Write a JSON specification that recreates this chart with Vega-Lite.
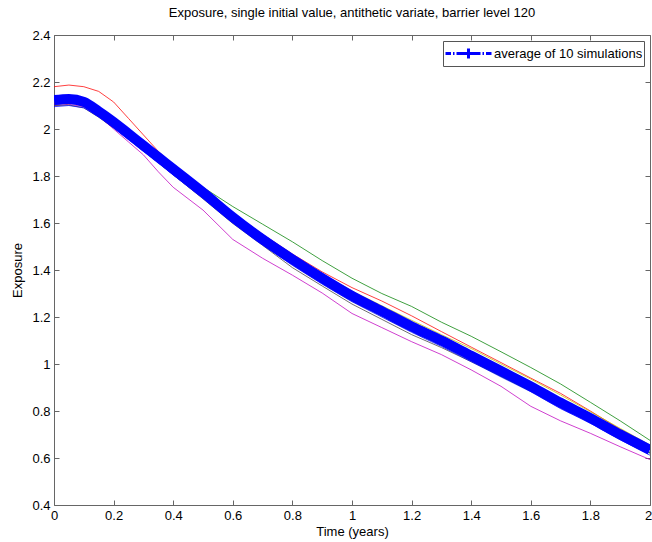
{
  "$schema": "https://vega.github.io/schema/vega-lite/v6.json",
  "width": 596,
  "height": 470,
  "autosize": {"type": "none"},
  "padding": {"left": 54, "top": 35, "right": 2, "bottom": 37},
  "background": "white",
  "title": {"text": "Exposure, single initial value, antithetic variate, barrier level 120", "font": "Liberation Sans", "fontSize": 13, "fontWeight": "normal", "color": "black", "anchor": "middle", "offset": 9},
  "config": {
    "view": {"stroke": null},
    "font": "Liberation Sans",
    "axis": {
      "grid": false,
      "domainColor": "#666666",
      "tickColor": "#666666",
      "tickSize": -5,
      "labelPadding": 9,
      "labelColor": "black",
      "labelFont": "Liberation Sans",
      "labelFontSize": 13,
      "labelFlush": false,
      "labelOverlap": false,
      "labelBound": false,
      "titleFont": "Liberation Sans",
      "titleFontSize": 13,
      "titleFontWeight": "normal",
      "titleColor": "black"
    }
  },
  "datasets": {
    "avg": [
      {"series": "average of 10 simulations", "t": 0, "v": 2.123},
      {"series": "average of 10 simulations", "t": 0.05, "v": 2.128},
      {"series": "average of 10 simulations", "t": 0.1, "v": 2.115},
      {"series": "average of 10 simulations", "t": 0.15, "v": 2.075},
      {"series": "average of 10 simulations", "t": 0.2, "v": 2.03},
      {"series": "average of 10 simulations", "t": 0.25, "v": 1.98},
      {"series": "average of 10 simulations", "t": 0.3, "v": 1.93},
      {"series": "average of 10 simulations", "t": 0.35, "v": 1.88},
      {"series": "average of 10 simulations", "t": 0.4, "v": 1.83},
      {"series": "average of 10 simulations", "t": 0.5, "v": 1.73},
      {"series": "average of 10 simulations", "t": 0.6, "v": 1.625},
      {"series": "average of 10 simulations", "t": 0.7, "v": 1.53},
      {"series": "average of 10 simulations", "t": 0.8, "v": 1.445},
      {"series": "average of 10 simulations", "t": 0.9, "v": 1.365},
      {"series": "average of 10 simulations", "t": 1, "v": 1.29},
      {"series": "average of 10 simulations", "t": 1.1, "v": 1.225},
      {"series": "average of 10 simulations", "t": 1.2, "v": 1.16},
      {"series": "average of 10 simulations", "t": 1.3, "v": 1.1},
      {"series": "average of 10 simulations", "t": 1.4, "v": 1.035},
      {"series": "average of 10 simulations", "t": 1.5, "v": 0.97},
      {"series": "average of 10 simulations", "t": 1.6, "v": 0.905},
      {"series": "average of 10 simulations", "t": 1.7, "v": 0.835},
      {"series": "average of 10 simulations", "t": 1.8, "v": 0.77},
      {"series": "average of 10 simulations", "t": 1.9, "v": 0.7},
      {"series": "average of 10 simulations", "t": 2, "v": 0.635}
    ],
    "sims": [
      {"s": "s1", "t": 0, "v": 2.105}, {"s": "s1", "t": 0.05, "v": 2.11}, {"s": "s1", "t": 0.1, "v": 2.1}, {"s": "s1", "t": 0.15, "v": 2.06}, {"s": "s1", "t": 0.2, "v": 2.012}, {"s": "s1", "t": 0.25, "v": 1.962}, {"s": "s1", "t": 0.3, "v": 1.915}, {"s": "s1", "t": 0.35, "v": 1.862}, {"s": "s1", "t": 0.4, "v": 1.815}, {"s": "s1", "t": 0.5, "v": 1.712}, {"s": "s1", "t": 0.6, "v": 1.612}, {"s": "s1", "t": 0.7, "v": 1.515}, {"s": "s1", "t": 0.8, "v": 1.43}, {"s": "s1", "t": 0.9, "v": 1.348}, {"s": "s1", "t": 1, "v": 1.272}, {"s": "s1", "t": 1.1, "v": 1.21}, {"s": "s1", "t": 1.2, "v": 1.145}, {"s": "s1", "t": 1.3, "v": 1.082}, {"s": "s1", "t": 1.4, "v": 1.02}, {"s": "s1", "t": 1.5, "v": 0.957}, {"s": "s1", "t": 1.6, "v": 0.89}, {"s": "s1", "t": 1.7, "v": 0.822}, {"s": "s1", "t": 1.8, "v": 0.755}, {"s": "s1", "t": 1.9, "v": 0.688}, {"s": "s1", "t": 2, "v": 0.622},
      {"s": "s2", "t": 0, "v": 2.135}, {"s": "s2", "t": 0.05, "v": 2.14}, {"s": "s2", "t": 0.1, "v": 2.125}, {"s": "s2", "t": 0.15, "v": 2.085}, {"s": "s2", "t": 0.2, "v": 2.035}, {"s": "s2", "t": 0.25, "v": 1.985}, {"s": "s2", "t": 0.3, "v": 1.935}, {"s": "s2", "t": 0.35, "v": 1.885}, {"s": "s2", "t": 0.4, "v": 1.838}, {"s": "s2", "t": 0.5, "v": 1.752}, {"s": "s2", "t": 0.6, "v": 1.67}, {"s": "s2", "t": 0.7, "v": 1.595}, {"s": "s2", "t": 0.8, "v": 1.52}, {"s": "s2", "t": 0.9, "v": 1.44}, {"s": "s2", "t": 1, "v": 1.365}, {"s": "s2", "t": 1.1, "v": 1.3}, {"s": "s2", "t": 1.2, "v": 1.245}, {"s": "s2", "t": 1.3, "v": 1.178}, {"s": "s2", "t": 1.4, "v": 1.118}, {"s": "s2", "t": 1.5, "v": 1.052}, {"s": "s2", "t": 1.6, "v": 0.985}, {"s": "s2", "t": 1.7, "v": 0.915}, {"s": "s2", "t": 1.8, "v": 0.837}, {"s": "s2", "t": 1.9, "v": 0.758}, {"s": "s2", "t": 2, "v": 0.675},
      {"s": "s3", "t": 0, "v": 2.18}, {"s": "s3", "t": 0.05, "v": 2.187}, {"s": "s3", "t": 0.1, "v": 2.18}, {"s": "s3", "t": 0.15, "v": 2.16}, {"s": "s3", "t": 0.2, "v": 2.115}, {"s": "s3", "t": 0.25, "v": 2.045}, {"s": "s3", "t": 0.3, "v": 1.975}, {"s": "s3", "t": 0.35, "v": 1.905}, {"s": "s3", "t": 0.4, "v": 1.845}, {"s": "s3", "t": 0.5, "v": 1.745}, {"s": "s3", "t": 0.6, "v": 1.642}, {"s": "s3", "t": 0.7, "v": 1.552}, {"s": "s3", "t": 0.8, "v": 1.468}, {"s": "s3", "t": 0.9, "v": 1.392}, {"s": "s3", "t": 1, "v": 1.325}, {"s": "s3", "t": 1.1, "v": 1.268}, {"s": "s3", "t": 1.2, "v": 1.205}, {"s": "s3", "t": 1.3, "v": 1.138}, {"s": "s3", "t": 1.4, "v": 1.072}, {"s": "s3", "t": 1.5, "v": 1.006}, {"s": "s3", "t": 1.6, "v": 0.94}, {"s": "s3", "t": 1.7, "v": 0.875}, {"s": "s3", "t": 1.8, "v": 0.8}, {"s": "s3", "t": 1.9, "v": 0.722}, {"s": "s3", "t": 2, "v": 0.652},
      {"s": "s4", "t": 0, "v": 2.128}, {"s": "s4", "t": 0.05, "v": 2.133}, {"s": "s4", "t": 0.1, "v": 2.122}, {"s": "s4", "t": 0.15, "v": 2.083}, {"s": "s4", "t": 0.2, "v": 2.04}, {"s": "s4", "t": 0.25, "v": 1.99}, {"s": "s4", "t": 0.3, "v": 1.94}, {"s": "s4", "t": 0.35, "v": 1.892}, {"s": "s4", "t": 0.4, "v": 1.84}, {"s": "s4", "t": 0.5, "v": 1.742}, {"s": "s4", "t": 0.6, "v": 1.632}, {"s": "s4", "t": 0.7, "v": 1.54}, {"s": "s4", "t": 0.8, "v": 1.455}, {"s": "s4", "t": 0.9, "v": 1.372}, {"s": "s4", "t": 1, "v": 1.298}, {"s": "s4", "t": 1.1, "v": 1.232}, {"s": "s4", "t": 1.2, "v": 1.168}, {"s": "s4", "t": 1.3, "v": 1.108}, {"s": "s4", "t": 1.4, "v": 1.04}, {"s": "s4", "t": 1.5, "v": 0.978}, {"s": "s4", "t": 1.6, "v": 0.912}, {"s": "s4", "t": 1.7, "v": 0.842}, {"s": "s4", "t": 1.8, "v": 0.777}, {"s": "s4", "t": 1.9, "v": 0.708}, {"s": "s4", "t": 2, "v": 0.64},
      {"s": "s5", "t": 0, "v": 2.1}, {"s": "s5", "t": 0.05, "v": 2.105}, {"s": "s5", "t": 0.1, "v": 2.095}, {"s": "s5", "t": 0.15, "v": 2.055}, {"s": "s5", "t": 0.2, "v": 2.0}, {"s": "s5", "t": 0.25, "v": 1.945}, {"s": "s5", "t": 0.3, "v": 1.89}, {"s": "s5", "t": 0.35, "v": 1.818}, {"s": "s5", "t": 0.4, "v": 1.752}, {"s": "s5", "t": 0.5, "v": 1.655}, {"s": "s5", "t": 0.6, "v": 1.53}, {"s": "s5", "t": 0.7, "v": 1.45}, {"s": "s5", "t": 0.8, "v": 1.378}, {"s": "s5", "t": 0.9, "v": 1.302}, {"s": "s5", "t": 1, "v": 1.215}, {"s": "s5", "t": 1.1, "v": 1.155}, {"s": "s5", "t": 1.2, "v": 1.095}, {"s": "s5", "t": 1.3, "v": 1.04}, {"s": "s5", "t": 1.4, "v": 0.975}, {"s": "s5", "t": 1.5, "v": 0.905}, {"s": "s5", "t": 1.6, "v": 0.82}, {"s": "s5", "t": 1.7, "v": 0.758}, {"s": "s5", "t": 1.8, "v": 0.705}, {"s": "s5", "t": 1.9, "v": 0.648}, {"s": "s5", "t": 2, "v": 0.593},
      {"s": "s6", "t": 0, "v": 2.12}, {"s": "s6", "t": 0.05, "v": 2.125}, {"s": "s6", "t": 0.1, "v": 2.112}, {"s": "s6", "t": 0.15, "v": 2.072}, {"s": "s6", "t": 0.2, "v": 2.028}, {"s": "s6", "t": 0.25, "v": 1.978}, {"s": "s6", "t": 0.3, "v": 1.93}, {"s": "s6", "t": 0.35, "v": 1.882}, {"s": "s6", "t": 0.4, "v": 1.832}, {"s": "s6", "t": 0.5, "v": 1.736}, {"s": "s6", "t": 0.6, "v": 1.635}, {"s": "s6", "t": 0.7, "v": 1.545}, {"s": "s6", "t": 0.8, "v": 1.462}, {"s": "s6", "t": 0.9, "v": 1.385}, {"s": "s6", "t": 1, "v": 1.31}, {"s": "s6", "t": 1.1, "v": 1.248}, {"s": "s6", "t": 1.2, "v": 1.186}, {"s": "s6", "t": 1.3, "v": 1.125}, {"s": "s6", "t": 1.4, "v": 1.066}, {"s": "s6", "t": 1.5, "v": 1.0}, {"s": "s6", "t": 1.6, "v": 0.936}, {"s": "s6", "t": 1.7, "v": 0.868}, {"s": "s6", "t": 1.8, "v": 0.797}, {"s": "s6", "t": 1.9, "v": 0.726}, {"s": "s6", "t": 2, "v": 0.655},
      {"s": "s7", "t": 0, "v": 2.1}, {"s": "s7", "t": 0.05, "v": 2.102}, {"s": "s7", "t": 0.1, "v": 2.09}, {"s": "s7", "t": 0.15, "v": 2.05}, {"s": "s7", "t": 0.2, "v": 2.005}, {"s": "s7", "t": 0.25, "v": 1.958}, {"s": "s7", "t": 0.3, "v": 1.91}, {"s": "s7", "t": 0.35, "v": 1.856}, {"s": "s7", "t": 0.4, "v": 1.805}, {"s": "s7", "t": 0.5, "v": 1.703}, {"s": "s7", "t": 0.6, "v": 1.598}, {"s": "s7", "t": 0.7, "v": 1.505}, {"s": "s7", "t": 0.8, "v": 1.41}, {"s": "s7", "t": 0.9, "v": 1.332}, {"s": "s7", "t": 1, "v": 1.255}, {"s": "s7", "t": 1.1, "v": 1.19}, {"s": "s7", "t": 1.2, "v": 1.125}, {"s": "s7", "t": 1.3, "v": 1.07}, {"s": "s7", "t": 1.4, "v": 1.01}, {"s": "s7", "t": 1.5, "v": 0.95}, {"s": "s7", "t": 1.6, "v": 0.885}, {"s": "s7", "t": 1.7, "v": 0.82}, {"s": "s7", "t": 1.8, "v": 0.755}, {"s": "s7", "t": 1.9, "v": 0.69}, {"s": "s7", "t": 2, "v": 0.625},
      {"s": "s8", "t": 0, "v": 2.095}, {"s": "s8", "t": 0.05, "v": 2.1}, {"s": "s8", "t": 0.1, "v": 2.09}, {"s": "s8", "t": 0.15, "v": 2.052}, {"s": "s8", "t": 0.2, "v": 2.005}, {"s": "s8", "t": 0.25, "v": 1.955}, {"s": "s8", "t": 0.3, "v": 1.905}, {"s": "s8", "t": 0.35, "v": 1.857}, {"s": "s8", "t": 0.4, "v": 1.805}, {"s": "s8", "t": 0.5, "v": 1.705}, {"s": "s8", "t": 0.6, "v": 1.6}, {"s": "s8", "t": 0.7, "v": 1.508}, {"s": "s8", "t": 0.8, "v": 1.42}, {"s": "s8", "t": 0.9, "v": 1.34}, {"s": "s8", "t": 1, "v": 1.265}, {"s": "s8", "t": 1.1, "v": 1.2}, {"s": "s8", "t": 1.2, "v": 1.135}, {"s": "s8", "t": 1.3, "v": 1.075}, {"s": "s8", "t": 1.4, "v": 1.01}, {"s": "s8", "t": 1.5, "v": 0.945}, {"s": "s8", "t": 1.6, "v": 0.882}, {"s": "s8", "t": 1.7, "v": 0.81}, {"s": "s8", "t": 1.8, "v": 0.748}, {"s": "s8", "t": 1.9, "v": 0.678}, {"s": "s8", "t": 2, "v": 0.612},
      {"s": "s9", "t": 0, "v": 2.13}, {"s": "s9", "t": 0.05, "v": 2.135}, {"s": "s9", "t": 0.1, "v": 2.12}, {"s": "s9", "t": 0.15, "v": 2.08}, {"s": "s9", "t": 0.2, "v": 2.032}, {"s": "s9", "t": 0.25, "v": 1.982}, {"s": "s9", "t": 0.3, "v": 1.93}, {"s": "s9", "t": 0.35, "v": 1.88}, {"s": "s9", "t": 0.4, "v": 1.828}, {"s": "s9", "t": 0.5, "v": 1.725}, {"s": "s9", "t": 0.6, "v": 1.615}, {"s": "s9", "t": 0.7, "v": 1.515}, {"s": "s9", "t": 0.8, "v": 1.43}, {"s": "s9", "t": 0.9, "v": 1.345}, {"s": "s9", "t": 1, "v": 1.27}, {"s": "s9", "t": 1.1, "v": 1.205}, {"s": "s9", "t": 1.2, "v": 1.14}, {"s": "s9", "t": 1.3, "v": 1.08}, {"s": "s9", "t": 1.4, "v": 1.015}, {"s": "s9", "t": 1.5, "v": 0.948}, {"s": "s9", "t": 1.6, "v": 0.885}, {"s": "s9", "t": 1.7, "v": 0.818}, {"s": "s9", "t": 1.8, "v": 0.752}, {"s": "s9", "t": 1.9, "v": 0.685}, {"s": "s9", "t": 2, "v": 0.62},
      {"s": "s10", "t": 0, "v": 2.108}, {"s": "s10", "t": 0.05, "v": 2.112}, {"s": "s10", "t": 0.1, "v": 2.105}, {"s": "s10", "t": 0.15, "v": 2.07}, {"s": "s10", "t": 0.2, "v": 2.03}, {"s": "s10", "t": 0.25, "v": 1.985}, {"s": "s10", "t": 0.3, "v": 1.94}, {"s": "s10", "t": 0.35, "v": 1.892}, {"s": "s10", "t": 0.4, "v": 1.842}, {"s": "s10", "t": 0.5, "v": 1.745}, {"s": "s10", "t": 0.6, "v": 1.64}, {"s": "s10", "t": 0.7, "v": 1.548}, {"s": "s10", "t": 0.8, "v": 1.462}, {"s": "s10", "t": 0.9, "v": 1.382}, {"s": "s10", "t": 1, "v": 1.308}, {"s": "s10", "t": 1.1, "v": 1.242}, {"s": "s10", "t": 1.2, "v": 1.178}, {"s": "s10", "t": 1.3, "v": 1.118}, {"s": "s10", "t": 1.4, "v": 1.052}, {"s": "s10", "t": 1.5, "v": 0.988}, {"s": "s10", "t": 1.6, "v": 0.922}, {"s": "s10", "t": 1.7, "v": 0.852}, {"s": "s10", "t": 1.8, "v": 0.787}, {"s": "s10", "t": 1.9, "v": 0.715}, {"s": "s10", "t": 2, "v": 0.648}
    ]
  },
  "layer": [
    {
      "data": {"name": "sims"},
      "mark": {"type": "line", "strokeWidth": 1, "opacity": 0.75, "clip": true},
      "encoding": {
        "x": {"field": "t", "type": "quantitative", "scale": {"domain": [0, 2], "nice": false, "zero": false},
              "axis": {"orient": "top", "labels": false, "title": null, "values": [0, 0.2, 0.4, 0.6, 0.8, 1, 1.2, 1.4, 1.6, 1.8, 2]}},
        "y": {"field": "v", "type": "quantitative", "scale": {"domain": [0.4, 2.4], "nice": false, "zero": false},
              "axis": {"orient": "right", "labels": false, "title": null, "values": [0.4, 0.6, 0.8, 1, 1.2, 1.4, 1.6, 1.8, 2, 2.2, 2.4]}},
        "color": {"field": "s", "type": "nominal",
                  "scale": {"domain": ["s1", "s2", "s3", "s4", "s5", "s6", "s7", "s8", "s9", "s10"],
                            "range": ["#0000ff", "#008000", "#ff0000", "#00bfbf", "#bf00bf", "#bfbf00", "#404040", "#0000ff", "#008000", "#ff0000"]},
                  "legend": null}
      }
    },
    {
      "data": {"name": "avg"},
      "mark": {"type": "line", "strokeWidth": 10, "clip": true, "interpolate": "monotone"},
      "encoding": {
        "x": {"field": "t", "type": "quantitative", "scale": {"domain": [0, 2], "nice": false, "zero": false},
              "axis": {"orient": "bottom", "title": "Time (years)", "titlePadding": 3, "format": ".1~f",
                       "labelOffset": {"condition": {"test": "datum.value == 2", "value": -2}, "value": 0},
                       "values": [0, 0.2, 0.4, 0.6, 0.8, 1, 1.2, 1.4, 1.6, 1.8, 2]}},
        "y": {"field": "v", "type": "quantitative", "scale": {"domain": [0.4, 2.4], "nice": false, "zero": false},
              "axis": {"orient": "left", "title": "Exposure", "titlePadding": 7, "format": ".1~f", "values": [0.4, 0.6, 0.8, 1, 1.2, 1.4, 1.6, 1.8, 2, 2.2, 2.4]}},
        "color": {"field": "series", "type": "nominal", "scale": {"range": ["#0000ff"]},
                  "legend": {"title": null, "orient": "top-right", "offset": 6, "padding": 1,
                             "strokeColor": "#555555", "fillColor": "white",
                             "symbolType": "M-1,0H-0.45M-0.25,0H-0.1M0.1,0H2.5M2.7,0H2.85M3.05,0H3.6M1.3,-0.5V0.5",
                             "symbolSize": 400, "symbolStrokeWidth": 3, "symbolFillColor": "transparent",
                             "labelOffset": 27, "labelFont": "Liberation Sans", "labelFontSize": 13, "labelColor": "black", "labelLimit": 0}}
      }
    }
  ],
  "resolve": {"scale": {"color": "independent"}, "axis": {"x": "independent", "y": "independent"}}
}
